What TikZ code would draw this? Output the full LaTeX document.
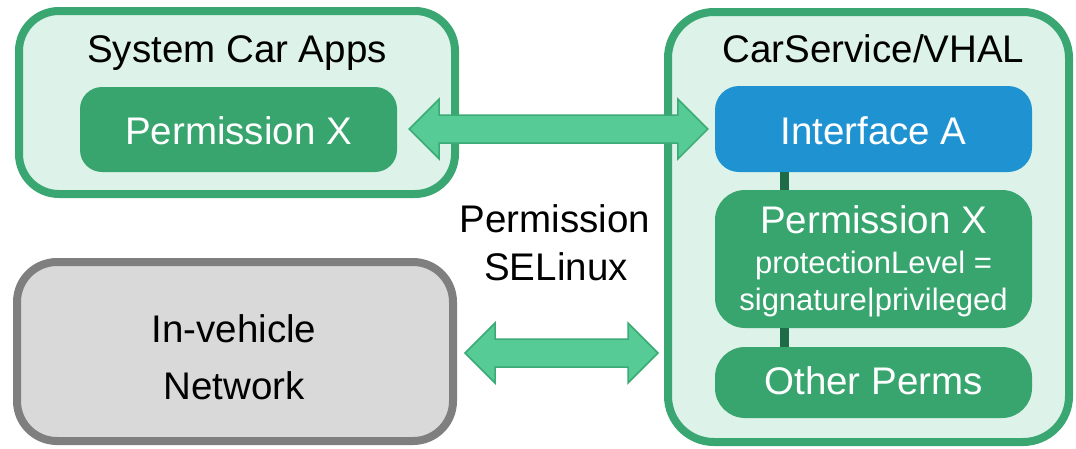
\documentclass[tikz,border=0pt]{standalone}
\usepackage{fontspec}
\setmainfont{Liberation Sans}
\usetikzlibrary{calc}

\definecolor{mint}{HTML}{DDF2E8}
\definecolor{groupline}{HTML}{3AA672}
\definecolor{permgreen}{HTML}{38A56F}
\definecolor{ifaceblue}{HTML}{1F93D2}
\definecolor{linkgreen}{HTML}{1E6B47}
\definecolor{arrowfill}{HTML}{57CB95}
\definecolor{arrowline}{HTML}{3BAA74}
\definecolor{netline}{HTML}{7F7F7F}
\definecolor{netfill}{HTML}{D9D9D9}

\newcommand\diagbig{\fontsize{38.5}{46}\selectfont}
\newcommand\diagsmall{\fontsize{31}{37}\selectfont}

% two-headed block arrow between two points on one horizontal line
\newcommand\twowayarrow[2]{%
  \filldraw[arrowbody]
    (#1) -- ($(#1)+(30,-30)$) -- ($(#1)+(30,-14)$)
    -- ($(#2)+(-30,-14)$) -- ($(#2)+(-30,-30)$) -- (#2)
    -- ($(#2)+(-30,30)$) -- ($(#2)+(-30,14)$)
    -- ($(#1)+(30,14)$) -- ($(#1)+(30,30)$) -- cycle;}

\begin{document}
\begin{tikzpicture}[x=1pt,y=-1pt,
  group/.style={draw=groupline, fill=mint, line width=8pt, inner sep=0pt},
  netbox/.style={draw=netline, fill=netfill, line width=8pt, inner sep=0pt, rounded corners=40pt},
  greenbox/.style={fill=permgreen, text=white, inner sep=0pt, font=\diagbig,
                   text height=30pt, text depth=0pt, rounded corners=22pt},
  bluebox/.style={greenbox, fill=ifaceblue, rounded corners=24pt},
  title/.style={anchor=base, inner sep=0pt, font=\diagbig, text=black},
  whiteline/.style={anchor=base, inner sep=0pt, text=white},
  link/.style={draw=linkgreen, line width=9pt},
  arrowbody/.style={fill=arrowfill, draw=arrowline, line width=1.5pt, line join=miter}]
\useasboundingbox (0,0) rectangle (1076,448);

% System Car Apps
\node[group, rounded corners=40pt, minimum width=436pt, minimum height=183pt] (apps) at (237,102.5) {};
\node[title] (appsT) at (237,62) {System Car Apps};
\node[greenbox, minimum width=317pt, minimum height=85pt] (appperm) at (238.5,129.5) {Permission X};

% In-vehicle network
\node[netbox, minimum width=436pt, minimum height=179pt] (net) at (235,351.5) {};
\node[title] (net1) at (234,342) {In-vehicle};
\node[title] (net2) at (234,399) {Network};

% CarService / VHAL
\node[group, rounded corners=46pt, minimum width=401pt, minimum height=430pt] (car) at (868.5,227) {};
\node[title] (carT) at (873.5,62) {CarService/VHAL};
\node[bluebox, minimum width=317pt, minimum height=86pt] (iface) at (873.5,129) {Interface A};
\node[greenbox, rounded corners=30pt, minimum width=317pt, minimum height=138pt] (pxbox) at (873.5,259) {};
\node[whiteline, font=\diagbig] (pxname) at (873.5,233) {Permission X};
\node[whiteline, font=\diagsmall] (pxlevel) at (873.5,273) {protectionLevel =};
\node[whiteline, font=\diagsmall] (pxsig) at (873.5,310) {signature|privileged};
\node[greenbox, rounded corners=30pt, text height=24pt, minimum width=317pt, minimum height=71pt] (other) at (873.5,382.5) {Other Perms};

% links inside CarService
\coordinate (lx) at (784,0);
\draw[link] (iface.south -| lx) -- (pxbox.north -| lx);
\draw[link] (pxbox.south -| lx) -- (other.north -| lx);

% middle label
\node[title] (perm1) at (555,232) {Permission};
\node[title] (perm2) at (556,280) {SELinux};

% two-way arrows
\coordinate (upL) at ($(appperm.east |- iface.west)+(12,0)$);
\coordinate (upR) at ($(iface.west)+(-7,0)$);
\twowayarrow{upL}{upR}
\coordinate (loL) at ($(net.east)+(8,1.5)$);
\coordinate (loR) at ($(loL -| car.west)+(-6,0)$);
\twowayarrow{loL}{loR}
\end{tikzpicture}
\end{document}
